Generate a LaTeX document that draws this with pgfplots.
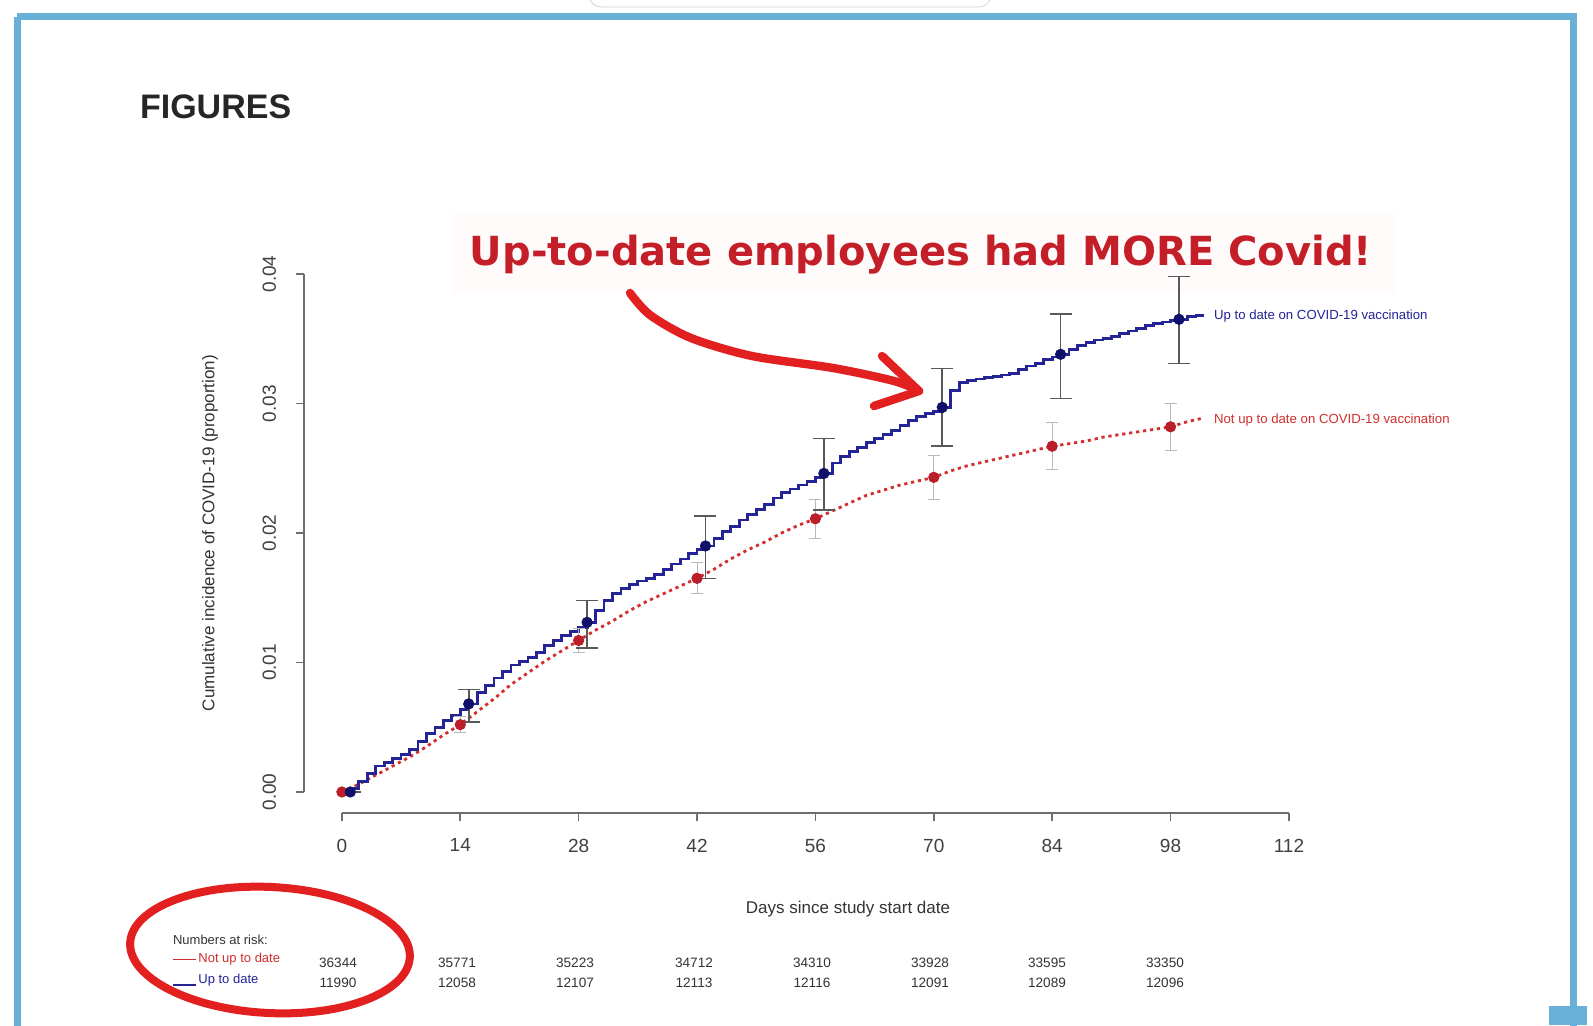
\documentclass[border=0pt]{standalone}
\usepackage{fontspec}
\setmainfont{Liberation Sans}
\newfontfamily\dejavu{DejaVu Sans}
\usepackage{pgfplots}
\pgfplotsset{compat=1.18}
\usepackage{pgfplotstable}
\definecolor{frameblue}{RGB}{104,176,214}
\definecolor{hlred}{RGB}{196,30,40}
\definecolor{penred}{RGB}{226,32,32}
\definecolor{upline}{RGB}{36,36,150}
\definecolor{upmark}{RGB}{16,16,104}
\definecolor{notline}{RGB}{210,46,46}
\definecolor{notmark}{RGB}{186,30,40}
\definecolor{axgray}{RGB}{110,110,110}

% Up to date (blue) cumulative incidence, step curve
\pgfplotstableread{
x y
0 0
1 0.0003
2 0.0008
3 0.0014
4 0.0020
5 0.0023
6 0.0026
7 0.0029
8 0.0033
9 0.0039
10 0.0045
11 0.0050
12 0.0055
13 0.0059
14 0.0064
15 0.0068
16 0.0077
17 0.0082
18 0.0088
19 0.0093
20 0.0098
21 0.0101
22 0.0104
23 0.0108
24 0.0113
25 0.0117
26 0.0121
27 0.0124
28 0.0127
29 0.0131
30 0.0140
31 0.0148
32 0.0153
33 0.0157
34 0.0160
35 0.0163
36 0.0165
37 0.0168
38 0.0172
39 0.0176
40 0.0180
41 0.0184
42 0.0187
43 0.0190
44 0.0196
45 0.0201
46 0.0205
47 0.0210
48 0.0214
49 0.0218
50 0.0222
51 0.0227
52 0.0231
53 0.0234
54 0.0237
55 0.0240
56 0.0243
57 0.0246
58 0.0254
59 0.0259
60 0.0263
61 0.0266
62 0.0270
63 0.0273
64 0.0276
65 0.0279
66 0.0283
67 0.0287
68 0.0290
69 0.0292
70 0.0294
71 0.0297
72 0.0310
73 0.0316
74 0.0318
75 0.0319
76 0.0320
77 0.0321
78 0.0322
79 0.0323
80 0.0326
81 0.0329
82 0.0331
83 0.0334
84 0.0336
85 0.0338
86 0.0342
87 0.0345
88 0.0347
89 0.0349
90 0.0350
91 0.0352
92 0.0354
93 0.0356
94 0.0358
95 0.0360
96 0.0362
97 0.0363
98 0.0364
99 0.0365
100 0.0367
101 0.0368
102 0.0368
}\uptable

% Not up to date (red) cumulative incidence
\pgfplotstableread{
x y
0 0
2 0.0006
4 0.0013
6 0.0020
8 0.0027
10 0.0035
12 0.0044
14 0.0052
16 0.0062
18 0.0072
20 0.0083
22 0.0092
24 0.0101
26 0.0109
28 0.0117
30 0.0125
32 0.0132
34 0.0140
36 0.0147
38 0.0153
40 0.0159
42 0.0165
44 0.0172
46 0.0180
48 0.0187
50 0.0193
52 0.0200
54 0.0206
56 0.0211
58 0.0217
60 0.0223
62 0.0229
64 0.0233
66 0.0237
68 0.0240
70 0.0243
72 0.0248
74 0.0252
76 0.0255
78 0.0258
80 0.0261
82 0.0264
84 0.0267
86 0.0269
88 0.0271
90 0.0274
92 0.0276
94 0.0278
96 0.0280
98 0.0282
100 0.0286
102 0.0289
}\nottable

% point estimates with confidence intervals
\pgfplotstableread{
x y ep em
1 0.0000 0 0
15 0.0068 0.0011 0.0014
29 0.0131 0.0017 0.0020
43 0.0190 0.0023 0.0025
57 0.0246 0.0027 0.0028
71 0.0297 0.0030 0.0030
85 0.0338 0.0031 0.0034
99 0.0365 0.0033 0.0034
}\upci

\pgfplotstableread{
x y ep em
0 0.0000 0 0
14 0.0052 0.0006 0.0006
28 0.0117 0.0009 0.0009
42 0.0165 0.0012 0.0012
56 0.0211 0.0015 0.0015
70 0.0243 0.0017 0.0017
84 0.0267 0.0018 0.0018
98 0.0282 0.0018 0.0018
}\notci

\begin{document}
\begin{tikzpicture}[x=0.5pt,y=0.5pt]
\useasboundingbox (0,0) rectangle (1593,1025);
\fill[white] (0,0) rectangle (1593,1025);
% top UI element
\draw[gray!35, fill=white, rounded corners=6] (589,1040) rectangle (991,1018);
% frame
\draw[frameblue, line width=3.5pt] (17,1008) -- (1573,1008) -- (1573,-10);
\draw[frameblue, line width=3.5pt] (17,1008) -- (17,-10);
\fill[frameblue] (1549,0) rectangle (1587,19);

% title
\node[font=\fontsize{17}{20}\selectfont\bfseries, text=black!85, anchor=west] at (133,918) {FIGURES};

% headline
\fill[red!1.5] (452,812) rectangle (1395,732);
\node[text=hlred, anchor=center] at (921,770) {\resizebox{451pt}{!}{\dejavu\bfseries Up-to-date employees had MORE Covid!}};

\begin{axis}[
  at={(152pt,106.15pt)}, anchor=south west,
  scale only axis, width=511.4pt, height=279.7pt,
  xmin=-4.48, xmax=116.48, ymin=-0.0016, ymax=0.0416,
  axis lines*=left,
  axis line style={draw=none},
  xtick={0,14,28,42,56,70,84,98,112},
  ytick={0,0.01,0.02,0.03,0.04},
  tick align=outside,
  major tick length=4pt,
  tick style={axgray, line width=0.8pt},
  /pgf/number format/assume math mode=true,
  y tick label style={/pgf/number format/fixed, /pgf/number format/fixed zerofill, /pgf/number format/precision=2},
  xticklabel style={font=\fontsize{9.5}{11}\selectfont, text=black!75, yshift=-5.5pt},
  yticklabel style={font=\fontsize{9.5}{11}\selectfont, text=black!75, xshift=-6.5pt, rotate=90, anchor=south},
  clip=false,
  scaled y ticks=false,
]
\draw[axgray, line width=0.8pt] (axis cs:0,-0.0016) -- (axis cs:112,-0.0016);
\draw[axgray, line width=0.8pt] (axis cs:-4.48,0) -- (axis cs:-4.48,0.04);

\addplot[notline, line width=1.4pt, dash pattern=on 1.6pt off 1.9pt] table[x=x,y=y] {\nottable};
\addplot[upline, line width=1.4pt, const plot] table[x=x,y=y] {\uptable};

\addplot[only marks, mark=*, mark size=2.6pt, mark options={fill=notmark, draw=notmark},
  error bars/.cd, y dir=both, y explicit,
  error bar style={gray!55, line width=0.5pt},
  error mark options={rotate=90, mark size=3pt, gray!55, line width=0.5pt}]
  table[x=x, y=y, y error plus=ep, y error minus=em] {\notci};
\addplot[only marks, mark=*, mark size=2.6pt, mark options={fill=upmark, draw=upmark},
  error bars/.cd, y dir=both, y explicit,
  error bar style={black!65, line width=0.8pt},
  error mark options={rotate=90, mark size=5.5pt, black!65, line width=0.8pt}]
  table[x=x, y=y, y error plus=ep, y error minus=em] {\upci};
\end{axis}

% curve labels
\node[anchor=west, font=\fontsize{6.6}{8}\selectfont, text=upline] at (1207,709) {Up to date on COVID-19 vaccination};
\node[anchor=west, font=\fontsize{6.6}{8}\selectfont, text=notline] at (1207,605) {Not up to date on COVID-19 vaccination};

% axis titles
\node[font=\fontsize{8.5}{10}\selectfont, text=black!80] at (848,116) {Days since study start date};
\node[rotate=90, font=\fontsize{8.5}{10}\selectfont, text=black!80] at (210,492) {Cumulative incidence of COVID-19 (proportion)};

% numbers at risk
\node[anchor=west, font=\fontsize{6.5}{8}\selectfont, text=black!80] at (166,85) {Numbers at risk:};
\draw[notline, line width=0.4pt] (173,66) -- (196,66);
\node[anchor=west, font=\fontsize{6.5}{8}\selectfont, text=notline, inner sep=1pt] at (196,66) {Not up to date};
\draw[upline, line width=0.6pt] (173,40) -- (196,40);
\node[anchor=west, font=\fontsize{6.5}{8}\selectfont, text=upline, inner sep=1pt] at (196,45) {Up to date};
\foreach \xx/\a/\b in {338/36344/11990, 457/35771/12058, 575/35223/12107, 694/34712/12113, 812/34310/12116, 930/33928/12091, 1047/33595/12089, 1165/33350/12096} {
  \node[font=\fontsize{6.8}{8}\selectfont, text=black!80] at (\xx,62) {\a};
  \node[font=\fontsize{6.8}{8}\selectfont, text=black!80] at (\xx,42) {\b};
}

% red annotations
\draw[penred, line width=4.2pt, line cap=round] plot[smooth] coordinates {(630,732) (650,710) (691,687) (752,669) (833,657) (894,644) (919,634)};
\draw[penred, line width=4.2pt, line cap=round, line join=round] (882,669) -- (919,634) -- (874,619);
\draw[penred, line width=4pt, rotate around={-3:(270,75)}] (270,75) ellipse [x radius=140, y radius=63];
\end{tikzpicture}
\end{document}
